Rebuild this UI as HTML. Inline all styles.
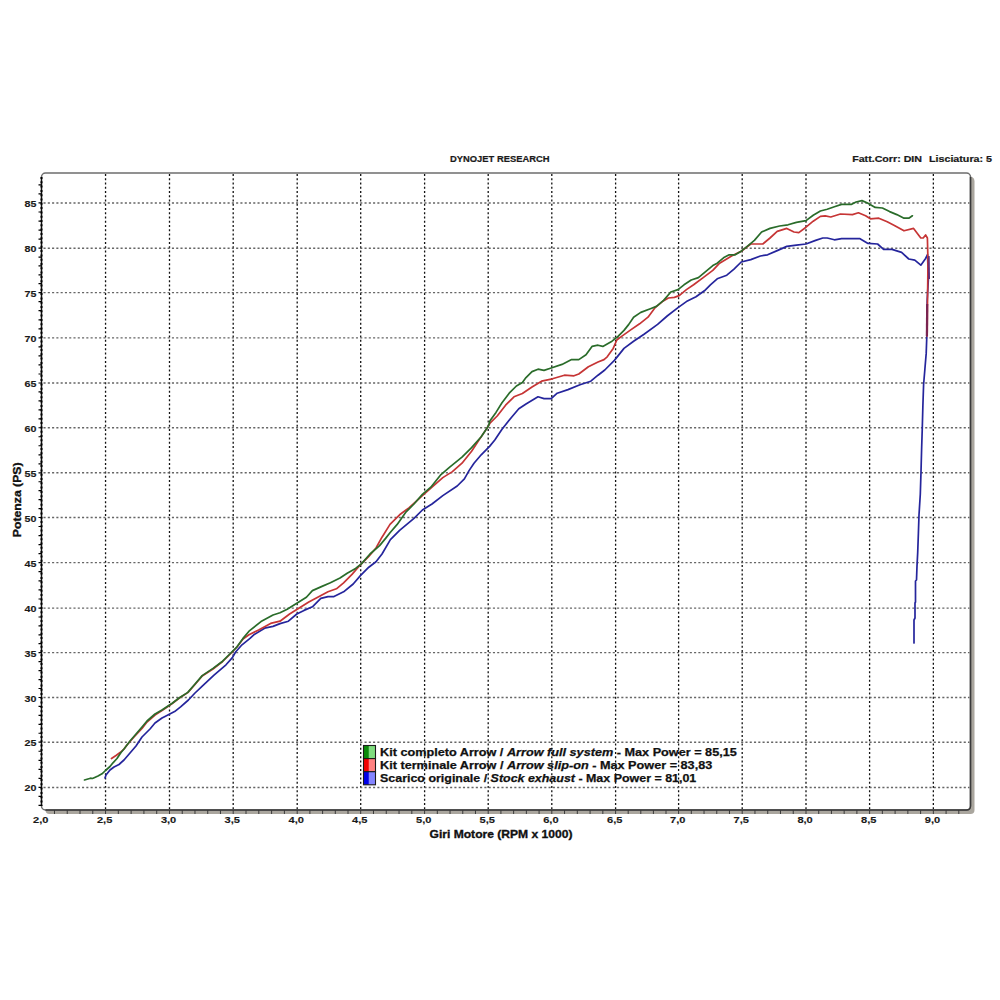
<!DOCTYPE html>
<html><head><meta charset="utf-8"><style>
html,body{margin:0;padding:0;background:#fff;width:1000px;height:1000px;overflow:hidden}
svg{display:block}
.lab{font-family:"Liberation Sans",sans-serif;font-weight:bold;font-size:9.6px;fill:#1a1a1a;stroke:#1a1a1a;stroke-width:0.15px}
.tt{font-family:"Liberation Sans",sans-serif;font-weight:bold;font-size:8.6px;fill:#1a1a1a;stroke:#1a1a1a;stroke-width:0.2px}
.ax{font-family:"Liberation Sans",sans-serif;font-weight:bold;font-size:11.5px;fill:#111;stroke:#111;stroke-width:0.35px}
.leg{font-family:"Liberation Sans",sans-serif;font-weight:bold;font-size:11px;fill:#111;stroke:#111;stroke-width:0.25px}
</style></head><body>
<svg width="1000" height="1000" viewBox="0 0 1000 1000">
<path d="M966.5 176.0 Q974.5 176.0 974.5 181.0 L974.5 810.0 Q974.5 814.0 970.5 814.0 L49.5 814.0 Q45.5 814.0 45.5 810.0 Z" fill="#aaa69e"/>
<rect x="41.5" y="173.0" width="929.0" height="637.0" rx="4" ry="4" fill="#fff" stroke="#6e6e6e" stroke-width="1.5"/>
<path d="M970.5 177.0V806.0Q970.5 810.0 966.5 810.0H45.5" stroke="#3a3a3a" stroke-width="1.5" fill="none"/>
<path d="M105.55 174.0V809.0M169.50 174.0V809.0M233.20 174.0V809.0M297.20 174.0V809.0M360.70 174.0V809.0M424.60 174.0V809.0M488.20 174.0V809.0M551.80 174.0V809.0M615.60 174.0V809.0M678.60 174.0V809.0M742.20 174.0V809.0M806.00 174.0V809.0M869.60 174.0V809.0M933.35 174.0V809.0" stroke="#111" stroke-width="1.3" stroke-dasharray="2.1 2.15" fill="none"/>
<path d="M43.5 787.45H969.5M43.5 742.20H969.5M43.5 697.50H969.5M43.5 652.60H969.5M43.5 608.10H969.5M43.5 562.60H969.5M43.5 517.50H969.5M43.5 472.80H969.5M43.5 427.75H969.5M43.5 383.00H969.5M43.5 337.90H969.5M43.5 292.60H969.5M43.5 248.20H969.5M43.5 202.95H969.5" stroke="#666" stroke-width="1.4" stroke-dasharray="2.1 2.18" fill="none"/>
<path d="M41.5 177.0V806.0" stroke="#111" stroke-width="1.2" fill="none"/>
<path d="M41.5 177.0V806.0" stroke="#000" stroke-width="2" stroke-dasharray="2 2.3" fill="none"/>
<path d="M38.5 805.43H41.5M38.5 796.44H41.5M38.5 787.45H41.5M38.5 778.40H41.5M38.5 769.35H41.5M38.5 760.30H41.5M38.5 751.25H41.5M38.5 742.20H41.5M38.5 733.26H41.5M38.5 724.32H41.5M38.5 715.38H41.5M38.5 706.44H41.5M38.5 697.50H41.5M38.5 688.52H41.5M38.5 679.54H41.5M38.5 670.56H41.5M38.5 661.58H41.5M38.5 652.60H41.5M38.5 643.70H41.5M38.5 634.80H41.5M38.5 625.90H41.5M38.5 617.00H41.5M38.5 608.10H41.5M38.5 599.00H41.5M38.5 589.90H41.5M38.5 580.80H41.5M38.5 571.70H41.5M38.5 562.60H41.5M38.5 553.58H41.5M38.5 544.56H41.5M38.5 535.54H41.5M38.5 526.52H41.5M38.5 517.50H41.5M38.5 508.56H41.5M38.5 499.62H41.5M38.5 490.68H41.5M38.5 481.74H41.5M38.5 472.80H41.5M38.5 463.79H41.5M38.5 454.78H41.5M38.5 445.77H41.5M38.5 436.76H41.5M38.5 427.75H41.5M38.5 418.80H41.5M38.5 409.85H41.5M38.5 400.90H41.5M38.5 391.95H41.5M38.5 383.00H41.5M38.5 373.98H41.5M38.5 364.96H41.5M38.5 355.94H41.5M38.5 346.92H41.5M38.5 337.90H41.5M38.5 328.84H41.5M38.5 319.78H41.5M38.5 310.72H41.5M38.5 301.66H41.5M38.5 292.60H41.5M38.5 283.72H41.5M38.5 274.84H41.5M38.5 265.96H41.5M38.5 257.08H41.5M38.5 248.20H41.5M38.5 239.15H41.5M38.5 230.10H41.5M38.5 221.05H41.5M38.5 212.00H41.5M38.5 202.95H41.5M38.5 193.96H41.5M38.5 184.97H41.5" stroke="#000" stroke-width="1.2" fill="none"/>
<path d="M54.47 810.0V814.0M67.24 810.0V814.0M80.01 810.0V814.0M92.78 810.0V814.0M105.55 810.0V814.0M118.34 810.0V814.0M131.13 810.0V814.0M143.92 810.0V814.0M156.71 810.0V814.0M169.50 810.0V814.0M182.24 810.0V814.0M194.98 810.0V814.0M207.72 810.0V814.0M220.46 810.0V814.0M233.20 810.0V814.0M246.00 810.0V814.0M258.80 810.0V814.0M271.60 810.0V814.0M284.40 810.0V814.0M297.20 810.0V814.0M309.90 810.0V814.0M322.60 810.0V814.0M335.30 810.0V814.0M348.00 810.0V814.0M360.70 810.0V814.0M373.48 810.0V814.0M386.26 810.0V814.0M399.04 810.0V814.0M411.82 810.0V814.0M424.60 810.0V814.0M437.32 810.0V814.0M450.04 810.0V814.0M462.76 810.0V814.0M475.48 810.0V814.0M488.20 810.0V814.0M500.92 810.0V814.0M513.64 810.0V814.0M526.36 810.0V814.0M539.08 810.0V814.0M551.80 810.0V814.0M564.56 810.0V814.0M577.32 810.0V814.0M590.08 810.0V814.0M602.84 810.0V814.0M615.60 810.0V814.0M628.20 810.0V814.0M640.80 810.0V814.0M653.40 810.0V814.0M666.00 810.0V814.0M678.60 810.0V814.0M691.32 810.0V814.0M704.04 810.0V814.0M716.76 810.0V814.0M729.48 810.0V814.0M742.20 810.0V814.0M754.96 810.0V814.0M767.72 810.0V814.0M780.48 810.0V814.0M793.24 810.0V814.0M806.00 810.0V814.0M818.72 810.0V814.0M831.44 810.0V814.0M844.16 810.0V814.0M856.88 810.0V814.0M869.60 810.0V814.0M882.35 810.0V814.0M895.10 810.0V814.0M907.85 810.0V814.0M920.60 810.0V814.0M933.35 810.0V814.0M946.08 810.0V814.0M958.81 810.0V814.0" stroke="#3a3a3a" stroke-width="1.0" fill="none"/>
<text x="24.6" y="791.45" class="lab" textLength="11.9" lengthAdjust="spacingAndGlyphs">20</text>
<text x="24.6" y="746.20" class="lab" textLength="11.9" lengthAdjust="spacingAndGlyphs">25</text>
<text x="24.6" y="701.50" class="lab" textLength="11.9" lengthAdjust="spacingAndGlyphs">30</text>
<text x="24.6" y="656.60" class="lab" textLength="11.9" lengthAdjust="spacingAndGlyphs">35</text>
<text x="24.6" y="612.10" class="lab" textLength="11.9" lengthAdjust="spacingAndGlyphs">40</text>
<text x="24.6" y="566.60" class="lab" textLength="11.9" lengthAdjust="spacingAndGlyphs">45</text>
<text x="24.6" y="521.50" class="lab" textLength="11.9" lengthAdjust="spacingAndGlyphs">50</text>
<text x="24.6" y="476.80" class="lab" textLength="11.9" lengthAdjust="spacingAndGlyphs">55</text>
<text x="24.6" y="431.75" class="lab" textLength="11.9" lengthAdjust="spacingAndGlyphs">60</text>
<text x="24.6" y="387.00" class="lab" textLength="11.9" lengthAdjust="spacingAndGlyphs">65</text>
<text x="24.6" y="341.90" class="lab" textLength="11.9" lengthAdjust="spacingAndGlyphs">70</text>
<text x="24.6" y="296.60" class="lab" textLength="11.9" lengthAdjust="spacingAndGlyphs">75</text>
<text x="24.6" y="252.20" class="lab" textLength="11.9" lengthAdjust="spacingAndGlyphs">80</text>
<text x="24.6" y="206.95" class="lab" textLength="11.9" lengthAdjust="spacingAndGlyphs">85</text>
<text x="33.10" y="823" class="lab" textLength="15.4" lengthAdjust="spacingAndGlyphs">2,0</text>
<text x="96.95" y="823" class="lab" textLength="15.4" lengthAdjust="spacingAndGlyphs">2,5</text>
<text x="160.90" y="823" class="lab" textLength="15.4" lengthAdjust="spacingAndGlyphs">3,0</text>
<text x="224.60" y="823" class="lab" textLength="15.4" lengthAdjust="spacingAndGlyphs">3,5</text>
<text x="288.60" y="823" class="lab" textLength="15.4" lengthAdjust="spacingAndGlyphs">4,0</text>
<text x="352.10" y="823" class="lab" textLength="15.4" lengthAdjust="spacingAndGlyphs">4,5</text>
<text x="416.00" y="823" class="lab" textLength="15.4" lengthAdjust="spacingAndGlyphs">5,0</text>
<text x="479.60" y="823" class="lab" textLength="15.4" lengthAdjust="spacingAndGlyphs">5,5</text>
<text x="543.20" y="823" class="lab" textLength="15.4" lengthAdjust="spacingAndGlyphs">6,0</text>
<text x="607.00" y="823" class="lab" textLength="15.4" lengthAdjust="spacingAndGlyphs">6,5</text>
<text x="670.00" y="823" class="lab" textLength="15.4" lengthAdjust="spacingAndGlyphs">7,0</text>
<text x="733.60" y="823" class="lab" textLength="15.4" lengthAdjust="spacingAndGlyphs">7,5</text>
<text x="797.40" y="823" class="lab" textLength="15.4" lengthAdjust="spacingAndGlyphs">8,0</text>
<text x="861.00" y="823" class="lab" textLength="15.4" lengthAdjust="spacingAndGlyphs">8,5</text>
<text x="924.75" y="823" class="lab" textLength="15.4" lengthAdjust="spacingAndGlyphs">9,0</text>
<text x="450" y="161.8" class="tt" textLength="99.5" lengthAdjust="spacingAndGlyphs">DYNOJET RESEARCH</text>
<text x="852.2" y="162" class="tt" textLength="69.8" lengthAdjust="spacingAndGlyphs">Fatt.Corr: DIN</text>
<text x="929" y="162" class="tt" textLength="63" lengthAdjust="spacingAndGlyphs">Lisciatura: 5</text>
<text x="429.5" y="838.3" class="ax" textLength="143" lengthAdjust="spacingAndGlyphs">Giri Motore (RPM x 1000)</text>
<text transform="translate(20.9 537.2) rotate(-90)" class="ax" textLength="74.8" lengthAdjust="spacingAndGlyphs">Potenza (PS)</text>
<path d="M105.0 778.0 L106.0 775.0 L110.0 770.0 L114.0 767.0 L119.0 764.5 L124.0 760.0 L130.0 753.0 L136.0 746.0 L142.0 737.0 L150.0 729.0 L155.0 723.0 L162.0 718.0 L165.0 716.4 L174.6 711.6 L180.6 706.8 L188.4 700.0 L195.0 693.0 L202.0 686.4 L214.0 675.2 L226.0 664.8 L232.4 657.6 L235.6 652.0 L242.0 644.8 L250.0 638.4 L253.8 634.8 L264.6 628.2 L273.0 626.4 L280.0 623.6 L288.4 621.2 L296.8 614.0 L304.0 610.4 L312.4 606.8 L320.8 598.4 L328.0 596.6 L334.0 596.6 L343.6 591.8 L353.2 584.0 L360.4 575.6 L368.8 567.2 L376.0 561.8 L382.0 554.0 L390.4 539.6 L399.6 530.4 L414.0 518.4 L422.4 510.0 L432.0 504.0 L442.8 495.6 L457.2 486.0 L464.4 478.8 L469.2 470.4 L474.0 463.2 L481.2 454.8 L489.6 446.4 L494.8 440.0 L502.0 429.2 L511.6 417.2 L518.8 408.8 L526.0 404.0 L538.0 396.8 L544.0 398.6 L551.2 398.6 L557.2 393.2 L568.0 389.6 L580.0 384.8 L590.8 381.2 L598.0 375.2 L604.8 370.0 L614.4 360.4 L624.0 348.4 L633.6 341.2 L644.4 334.0 L657.6 324.4 L667.2 316.0 L678.0 307.6 L686.4 301.6 L696.0 296.8 L704.4 290.8 L710.4 284.8 L717.2 278.8 L726.8 275.2 L734.0 269.2 L741.2 262.0 L750.8 259.6 L760.4 256.0 L767.6 254.8 L777.2 250.6 L786.8 246.4 L796.4 245.2 L806.0 244.0 L815.6 240.4 L822.8 238.0 L827.2 238.0 L834.4 239.8 L841.6 238.6 L859.6 238.6 L868.0 243.4 L877.6 244.0 L883.6 249.4 L892.0 249.4 L901.6 252.4 L908.8 259.0 L914.8 260.2 L920.8 265.2 L925.6 258.4 L927.5 254.5 L928.4 278.6 L927.2 300.0 L926.8 336.5 L926.2 353.4 L924.9 369.0 L923.6 384.5 L922.9 405.3 L922.3 427.4 L921.6 449.5 L921.0 472.0 L920.3 494.2 L919.0 515.0 L918.4 533.1 L917.7 552.6 L917.0 566.0 L916.5 580.0 L915.5 581.0 L915.5 602.0 L915.0 603.0 L915.0 618.0 L914.0 620.0 L914.0 643.0" stroke="#25259c" stroke-width="1.7" fill="none" stroke-linejoin="round" stroke-linecap="round"/>
<path d="M111.5 758.5 L116.0 755.5 L120.5 752.3 L124.0 749.0 L127.0 745.0 L134.0 737.0 L142.0 728.5 L147.0 722.0 L155.0 715.0 L162.0 710.5 L165.0 708.5 L172.2 703.5 L179.4 698.0 L187.8 692.6 L195.0 684.5 L202.2 676.0 L213.0 669.0 L222.6 661.5 L229.8 654.5 L237.0 647.0 L243.0 639.0 L249.0 634.8 L258.6 630.0 L270.6 623.4 L280.0 621.2 L289.6 614.0 L299.2 608.0 L308.8 602.0 L319.6 596.2 L328.0 591.8 L336.4 588.8 L343.6 582.8 L352.0 574.4 L360.4 564.8 L368.8 556.4 L376.0 548.0 L382.0 537.2 L390.0 524.4 L399.6 514.8 L409.2 507.6 L422.4 495.6 L432.0 487.2 L442.8 477.6 L452.4 471.6 L462.0 463.2 L471.6 451.2 L478.8 440.4 L486.0 429.6 L490.0 423.2 L497.2 416.0 L505.6 405.2 L514.0 396.8 L522.4 393.5 L532.0 387.0 L541.6 381.2 L552.4 378.8 L564.4 375.2 L574.0 375.8 L578.8 374.0 L588.4 366.8 L598.0 362.0 L604.0 359.6 L607.2 356.8 L613.2 348.4 L616.8 340.0 L621.6 336.4 L630.0 330.4 L639.6 323.8 L648.0 317.2 L655.2 307.6 L662.4 301.6 L668.4 298.0 L674.4 297.4 L679.2 295.6 L686.4 289.6 L693.6 284.8 L703.2 277.6 L712.8 270.4 L719.6 263.2 L731.6 256.0 L741.2 251.2 L750.8 244.0 L758.0 244.0 L762.8 244.0 L770.0 238.0 L777.2 231.4 L786.8 228.4 L794.0 232.0 L798.8 232.6 L806.0 227.2 L813.2 221.2 L820.4 216.4 L825.2 215.8 L830.8 217.0 L840.4 214.0 L852.4 214.6 L858.4 212.8 L865.6 215.8 L870.4 218.8 L878.8 218.2 L887.2 221.8 L894.4 225.4 L904.0 230.8 L913.6 228.4 L920.8 238.0 L923.2 238.0 L925.6 235.0 L927.4 238.0 L928.0 262.0 L927.4 310.0 L927.2 336.0" stroke="#c63535" stroke-width="1.7" fill="none" stroke-linejoin="round" stroke-linecap="round"/>
<path d="M84.5 780.0 L90.5 778.2 L92.5 778.5 L98.0 776.0 L102.0 773.8 L105.5 770.5 L110.0 766.5 L113.0 762.8 L117.0 758.5 L121.0 752.5 L124.0 749.0 L127.0 745.0 L130.0 741.0 L136.0 734.0 L142.0 727.0 L147.0 721.0 L155.0 714.0 L162.0 710.0 L165.0 708.0 L172.2 703.2 L179.4 697.8 L187.8 692.4 L195.0 684.0 L202.2 675.6 L213.0 668.4 L222.6 661.2 L229.8 654.0 L237.0 646.8 L243.0 638.4 L249.0 631.2 L261.0 621.6 L273.0 615.0 L280.0 612.8 L287.2 609.2 L296.8 603.2 L306.4 597.2 L312.4 590.6 L322.0 586.4 L330.4 582.8 L340.0 578.0 L347.2 573.2 L355.6 568.4 L361.6 563.6 L370.0 554.0 L379.6 545.6 L385.6 538.4 L390.0 532.8 L397.2 524.4 L405.6 512.4 L414.0 504.0 L422.4 494.4 L430.8 487.2 L440.4 475.2 L450.0 466.8 L462.0 457.2 L471.6 447.6 L481.2 436.8 L488.4 426.0 L490.0 420.8 L496.0 412.4 L502.0 402.8 L509.2 393.2 L516.4 386.0 L522.4 382.5 L526.0 377.6 L532.0 371.6 L538.0 369.2 L544.0 370.4 L551.2 368.0 L562.0 364.4 L571.6 359.6 L578.8 359.6 L586.0 354.8 L592.0 346.4 L598.0 345.2 L602.8 346.4 L612.0 341.2 L618.0 336.4 L624.0 330.4 L628.8 324.4 L633.6 317.2 L640.8 312.4 L650.4 308.8 L656.4 306.4 L663.6 300.4 L670.8 292.0 L678.0 289.6 L684.0 284.8 L691.2 280.0 L698.4 277.6 L705.6 271.6 L712.8 265.6 L717.2 263.2 L724.4 257.2 L729.2 254.8 L735.2 254.8 L741.2 251.2 L747.2 246.4 L754.4 240.4 L761.6 232.0 L770.0 228.4 L779.6 226.0 L788.0 224.8 L796.4 222.4 L806.0 220.6 L813.2 215.2 L820.4 211.0 L827.2 209.2 L834.4 206.8 L841.6 204.4 L851.2 204.4 L856.0 202.0 L862.0 200.6 L868.0 203.2 L875.2 207.4 L882.4 208.0 L889.6 211.6 L896.8 214.6 L904.0 218.2 L908.8 218.2 L912.4 215.8" stroke="#2a6c2a" stroke-width="1.7" fill="none" stroke-linejoin="round" stroke-linecap="round"/>
<path d="M928.9 256 L929.2 279" stroke="#5a2a7a" stroke-width="1.6" fill="none"/>
<path d="M927.2 304 L926.9 336" stroke="#7a2450" stroke-width="2.2" fill="none"/>
<rect x="363.5" y="745.50" width="5.4" height="13.1" fill="#0a8a0a"/>
<rect x="368.9" y="745.50" width="6.6" height="13.1" fill="#7fdc7f"/>
<rect x="363.5" y="745.50" width="12" height="13.1" fill="none" stroke="#1a1a1a" stroke-width="1.1"/>
<text x="380" y="755.50" class="leg" textLength="356.8" lengthAdjust="spacingAndGlyphs">Kit completo Arrow / <tspan font-style="italic">Arrow full system</tspan> - Max Power = 85,15</text>
<rect x="363.5" y="758.60" width="5.4" height="13.1" fill="#f20000"/>
<rect x="368.9" y="758.60" width="6.6" height="13.1" fill="#ff8282"/>
<rect x="363.5" y="758.60" width="12" height="13.1" fill="none" stroke="#1a1a1a" stroke-width="1.1"/>
<text x="380" y="768.75" class="leg" textLength="332.3" lengthAdjust="spacingAndGlyphs">Kit terminale Arrow / <tspan font-style="italic">Arrow slip-on</tspan> - Max Power = 83,83</text>
<rect x="363.5" y="771.70" width="5.4" height="13.1" fill="#0000e8"/>
<rect x="368.9" y="771.70" width="6.6" height="13.1" fill="#8484ff"/>
<rect x="363.5" y="771.70" width="12" height="13.1" fill="none" stroke="#1a1a1a" stroke-width="1.1"/>
<text x="380" y="782.00" class="leg" textLength="316.3" lengthAdjust="spacingAndGlyphs">Scarico originale / <tspan font-style="italic">Stock exhaust</tspan> - Max Power = 81,01</text>
</svg></body></html>
